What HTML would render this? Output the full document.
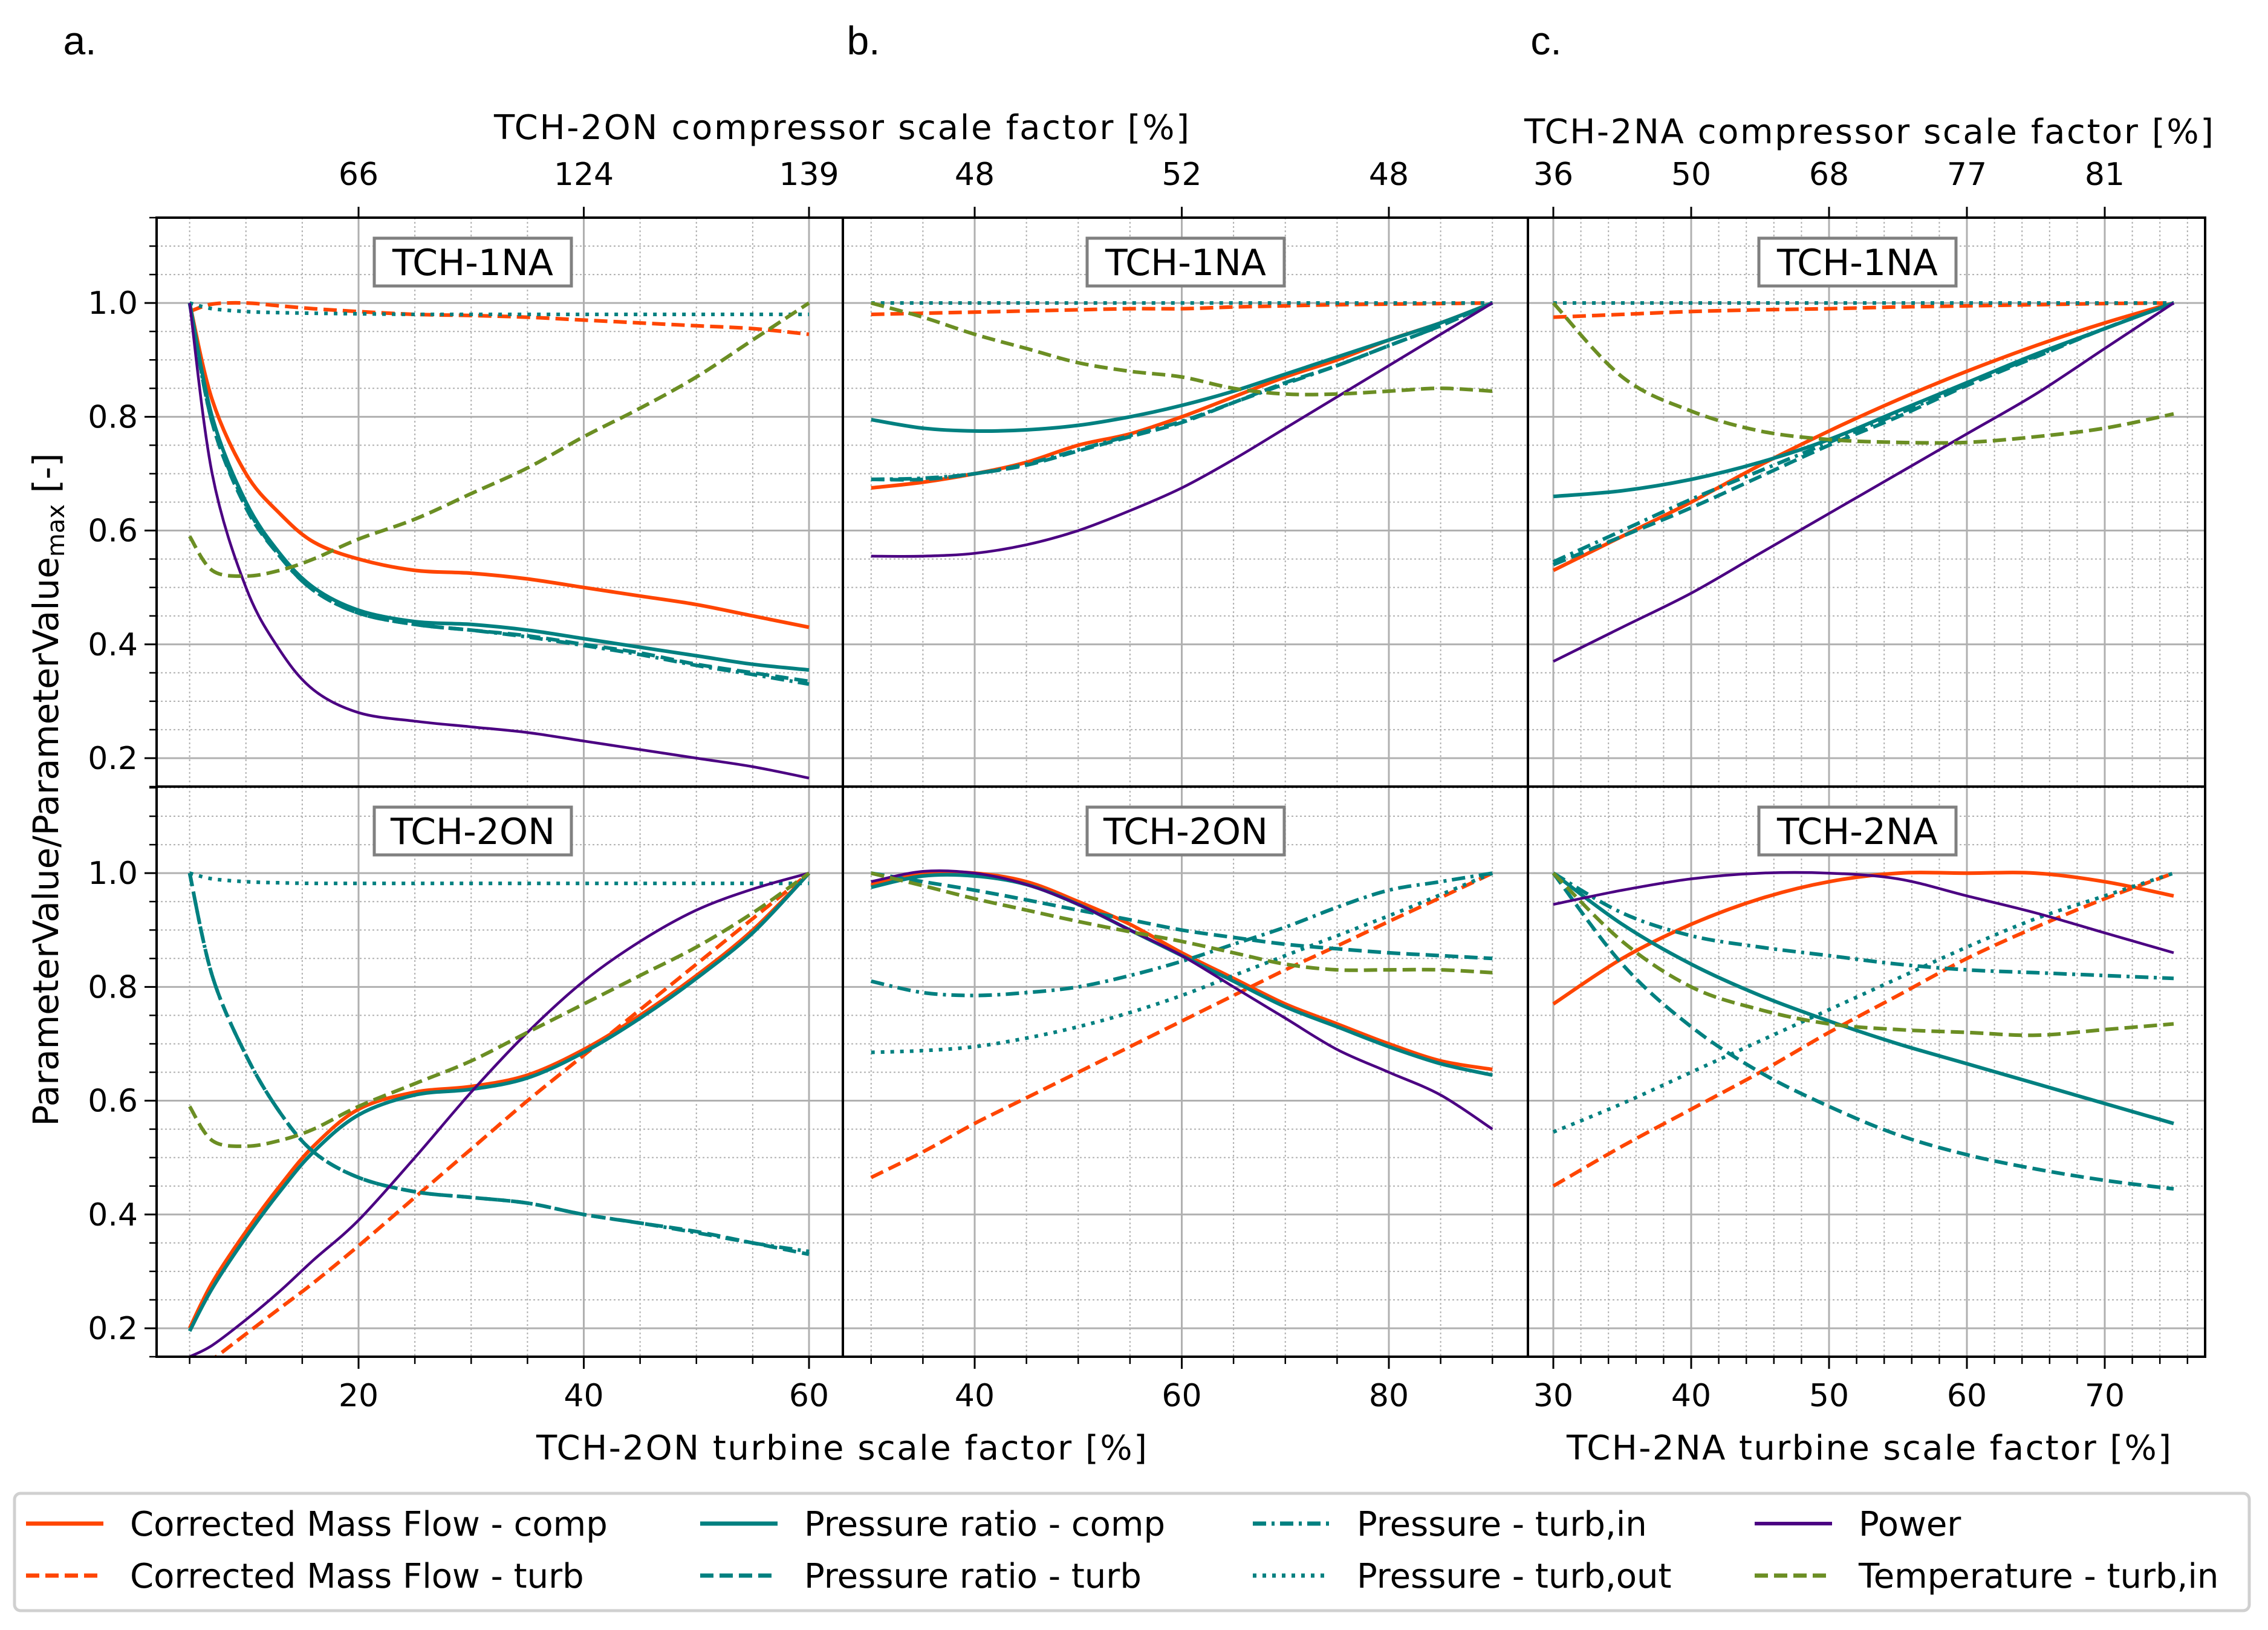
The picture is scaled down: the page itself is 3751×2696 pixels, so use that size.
<!DOCTYPE html>
<html><head><meta charset="utf-8"><style>
html,body{margin:0;padding:0;background:#fff}
svg{display:block}
text{font-family:"DejaVu Sans","Liberation Sans",sans-serif;fill:#000}
</style></head><body>
<svg id="chart" width="3751" height="2696" viewBox="0 0 3751 2696" xmlns="http://www.w3.org/2000/svg">
<rect width="3751" height="2696" fill="#fff"/>
<g id="grid"></g><g id="series"></g><g id="axes"></g><g id="labels"></g>
</svg>
<script>
// ---- data ----
const xA = [5,7,10,13,16,20,25,30,35,40,45,50,55,60];
const a1_cmfComp = [1.0,0.83,0.70,0.63,0.58,0.55,0.53,0.525,0.515,0.50,0.485,0.47,0.45,0.43];
const a1_cmfTurb = [0.985,0.998,1.0,0.995,0.99,0.985,0.98,0.978,0.975,0.97,0.965,0.96,0.955,0.945];
const a1_prComp = [1.0,0.80,0.65,0.56,0.50,0.46,0.44,0.435,0.425,0.41,0.395,0.38,0.365,0.355];
const a1_prTurb = [1.0,0.79,0.64,0.555,0.495,0.455,0.435,0.425,0.415,0.40,0.385,0.365,0.35,0.335];
const a1_pIn = [1.0,0.79,0.645,0.555,0.495,0.455,0.435,0.425,0.413,0.398,0.382,0.363,0.347,0.33];
const a1_pOut = [1.0,0.99,0.985,0.983,0.982,0.981,0.98,0.98,0.98,0.98,0.98,0.98,0.98,0.98];
const a1_power = [1.0,0.70,0.50,0.39,0.32,0.28,0.265,0.255,0.245,0.23,0.215,0.20,0.185,0.165];
const a1_temp = [0.59,0.53,0.52,0.53,0.55,0.585,0.62,0.665,0.71,0.765,0.815,0.87,0.935,1.0];

const a2_cmfComp = [0.20,0.28,0.37,0.45,0.52,0.585,0.615,0.625,0.645,0.69,0.75,0.82,0.90,1.0];
const a2_cmfTurb = [0.12,0.145,0.19,0.235,0.28,0.345,0.43,0.515,0.60,0.68,0.76,0.84,0.92,1.0];
const a2_prComp = [0.195,0.27,0.36,0.44,0.51,0.575,0.61,0.62,0.64,0.685,0.745,0.815,0.895,1.0];
const a2_prTurb = [1.0,0.82,0.68,0.58,0.51,0.465,0.44,0.43,0.42,0.40,0.385,0.37,0.35,0.33];
const a2_pIn = [1.0,0.82,0.68,0.58,0.51,0.465,0.44,0.43,0.42,0.40,0.385,0.368,0.35,0.335];
const a2_pOut = [1.0,0.99,0.985,0.983,0.982,0.982,0.982,0.982,0.982,0.982,0.982,0.982,0.982,0.982];
const a2_power = [0.15,0.17,0.215,0.265,0.32,0.39,0.50,0.615,0.72,0.81,0.88,0.935,0.972,1.0];
const a2_temp = [0.59,0.53,0.52,0.53,0.55,0.59,0.63,0.67,0.72,0.77,0.82,0.87,0.93,1.0];

const xB = [30,35,40,45,50,55,60,65,70,75,80,85,90];
const b1_cmfComp = [0.675,0.685,0.70,0.72,0.75,0.77,0.80,0.835,0.87,0.90,0.935,0.965,1.0];
const b1_cmfTurb = [0.98,0.982,0.984,0.986,0.988,0.99,0.99,0.993,0.995,0.997,0.998,0.999,1.0];
const b1_prComp = [0.795,0.78,0.775,0.777,0.785,0.80,0.82,0.845,0.875,0.905,0.935,0.965,1.0];
const b1_prTurb = [0.69,0.69,0.70,0.715,0.74,0.765,0.79,0.825,0.86,0.89,0.925,0.96,1.0];
const b1_pIn = [0.69,0.692,0.70,0.717,0.742,0.767,0.792,0.825,0.858,0.89,0.925,0.96,1.0];
const b1_pOut = [1.0,1.0,1.0,1.0,1.0,1.0,1.0,1.0,1.0,1.0,1.0,1.0,1.0];
const b1_power = [0.555,0.555,0.56,0.575,0.60,0.635,0.675,0.725,0.78,0.835,0.89,0.945,1.0];
const b1_temp = [1.0,0.975,0.945,0.92,0.895,0.88,0.87,0.85,0.84,0.84,0.845,0.85,0.845];

const b2_cmfComp = [0.98,1.0,1.0,0.985,0.95,0.91,0.86,0.815,0.77,0.735,0.70,0.67,0.655];
const b2_cmfTurb = [0.465,0.51,0.56,0.605,0.65,0.695,0.74,0.785,0.83,0.872,0.915,0.957,1.0];
const b2_prComp = [0.975,0.995,0.995,0.98,0.945,0.90,0.855,0.81,0.765,0.73,0.695,0.665,0.645];
const b2_prTurb = [1.0,0.985,0.97,0.953,0.935,0.918,0.90,0.887,0.875,0.867,0.86,0.855,0.85];
const b2_pIn = [0.81,0.79,0.785,0.79,0.80,0.82,0.845,0.875,0.905,0.94,0.97,0.985,1.0];
const b2_pOut = [0.685,0.688,0.695,0.71,0.73,0.755,0.785,0.82,0.855,0.89,0.925,0.962,1.0];
const b2_power = [0.985,1.003,1.0,0.98,0.945,0.90,0.855,0.80,0.745,0.69,0.65,0.61,0.55];
const b2_temp = [1.0,0.978,0.955,0.935,0.915,0.897,0.88,0.86,0.84,0.83,0.83,0.83,0.825];

const xC = [30,35,40,45,50,55,60,65,70,75];
const c1_cmfComp = [0.53,0.59,0.65,0.715,0.775,0.83,0.88,0.925,0.965,1.0];
const c1_cmfTurb = [0.975,0.98,0.985,0.988,0.99,0.993,0.995,0.997,0.999,1.0];
const c1_prComp = [0.66,0.67,0.69,0.72,0.76,0.81,0.86,0.91,0.955,1.0];
const c1_prTurb = [0.54,0.59,0.64,0.695,0.75,0.80,0.855,0.905,0.955,1.0];
const c1_pIn = [0.545,0.60,0.655,0.705,0.755,0.805,0.857,0.907,0.955,1.0];
const c1_pOut = [1.0,1.0,1.0,1.0,1.0,1.0,1.0,1.0,1.0,1.0];
const c1_power = [0.37,0.43,0.49,0.56,0.63,0.70,0.77,0.84,0.92,1.0];
const c1_temp = [1.0,0.87,0.81,0.775,0.76,0.755,0.755,0.765,0.78,0.805];

const c2_cmfComp = [0.77,0.85,0.91,0.955,0.985,1.0,1.0,1.0,0.985,0.96];
const c2_cmfTurb = [0.45,0.52,0.585,0.65,0.72,0.785,0.85,0.905,0.955,1.0];
const c2_prComp = [1.0,0.91,0.84,0.785,0.74,0.70,0.665,0.63,0.595,0.56];
const c2_prTurb = [1.0,0.84,0.73,0.65,0.59,0.54,0.505,0.48,0.46,0.445];
const c2_pIn = [1.0,0.93,0.89,0.87,0.855,0.84,0.83,0.825,0.82,0.815];
const c2_pOut = [0.545,0.595,0.65,0.705,0.76,0.815,0.87,0.92,0.96,1.0];
const c2_power = [0.945,0.97,0.99,1.0,1.0,0.99,0.96,0.93,0.895,0.86];
const c2_temp = [1.0,0.88,0.80,0.76,0.735,0.725,0.72,0.715,0.725,0.735];

const yTicks = [0.2,0.4,0.6,0.8,1.0];
const yTickLabels = ["0.2","0.4","0.6","0.8","1.0"];
const aTicks = [20,40,60]; const aTopLabels = ["66","124","139"];
const bTicks = [40,60,80]; const bTopLabels = ["48","52","48"];
const cTicks = [30,40,50,60,70]; const cTopLabels = ["36","50","68","77","81"];
const legendLabels = ["Corrected Mass Flow - comp","Corrected Mass Flow - turb","Pressure ratio - comp","Pressure ratio - turb","Pressure - turb,in","Pressure - turb,out","Power","Temperature - turb,in"];

// ---- layout ----
const NS="http://www.w3.org/2000/svg";
const rows=[{top:1301,bot:360},{top:2244,bot:1301}];
function yS(r,v){return rows[r].top-(v-0.15)*941;}
const panels=[
 {id:'a',l:259,r:1394,x0:20,px0:593,k:18.625,x:xA,ticks:aTicks,top:aTopLabels,minor:5,
  s:[[a1_cmfComp,a1_cmfTurb,a1_prComp,a1_prTurb,a1_pIn,a1_pOut,a1_power,a1_temp],[a2_cmfComp,a2_cmfTurb,a2_prComp,a2_prTurb,a2_pIn,a2_pOut,a2_power,a2_temp]],titles:["TCH-1NA","TCH-2ON"],tx:782},
 {id:'b',l:1394,r:2527,x0:40,px0:1612,k:17.125,x:xB,ticks:bTicks,top:bTopLabels,minor:5,
  s:[[b1_cmfComp,b1_cmfTurb,b1_prComp,b1_prTurb,b1_pIn,b1_pOut,b1_power,b1_temp],[b2_cmfComp,b2_cmfTurb,b2_prComp,b2_prTurb,b2_pIn,b2_pOut,b2_power,b2_temp]],titles:["TCH-1NA","TCH-2ON"],tx:1961},
 {id:'c',l:2527,r:3647,x0:30,px0:2569,k:22.8,x:xC,ticks:cTicks,top:cTopLabels,minor:2,
  s:[[c1_cmfComp,c1_cmfTurb,c1_prComp,c1_prTurb,c1_pIn,c1_pOut,c1_power,c1_temp],[c2_cmfComp,c2_cmfTurb,c2_prComp,c2_prTurb,c2_pIn,c2_pOut,c2_power,c2_temp]],titles:["TCH-1NA","TCH-2NA"],tx:3072}
];
const styles=[
 {c:'#FF4500',w:6,d:''},{c:'#FF4500',w:6,d:'22 10'},
 {c:'#008080',w:6,d:''},{c:'#008080',w:6,d:'22 10'},
 {c:'#008080',w:6,d:'22 9 5 9'},{c:'#008080',w:6,d:'6 10'},
 {c:'#4B0082',w:4.5,d:''},{c:'#6B8E23',w:6,d:'22 10'}];
const seriesNames=['cmf-comp','cmf-turb','pr-comp','pr-turb','p-turb-in','p-turb-out','power','temp-turb-in'];
function mk(tag,attrs,parent,txt){const e=document.createElementNS(NS,tag);for(const k in attrs)e.setAttribute(k,attrs[k]);if(txt!==undefined)e.textContent=txt;parent.appendChild(e);return e;}
const G=document.getElementById('grid'),S=document.getElementById('series'),A=document.getElementById('axes'),L=document.getElementById('labels');
function xS(p,v){return p.px0+(v-p.x0)*p.k;}
function smooth(pts){let d=`M${pts[0][0]},${pts[0][1]}`;for(let i=0;i<pts.length-1;i++){const p0=pts[Math.max(0,i-1)],p1=pts[i],p2=pts[i+1],p3=pts[Math.min(pts.length-1,i+2)];const c1=[p1[0]+(p2[0]-p0[0])/6,p1[1]+(p2[1]-p0[1])/6],c2=[p2[0]-(p3[0]-p1[0])/6,p2[1]-(p3[1]-p1[1])/6];d+=` C${c1[0].toFixed(1)},${c1[1].toFixed(1)} ${c2[0].toFixed(1)},${c2[1].toFixed(1)} ${p2[0].toFixed(1)},${p2[1].toFixed(1)}`;}return d;}
const defs=mk('defs',{},document.getElementById('chart'));
panels.forEach((p,pi)=>{
 for(let r=0;r<2;r++){
  const cp=mk('clipPath',{id:`clip${pi}${r}`},defs);mk('rect',{x:p.l,y:rows[r].bot,width:p.r-p.l,height:rows[r].top-rows[r].bot},cp);
  for(let v=0.15;v<=1.151;v+=0.05){const y=yS(r,v);const maj=yTicks.some(t=>Math.abs(t-v)<1e-6);
   if(!maj){const ln=mk('line',{x1:p.l,x2:p.r,y1:y,y2:y,stroke:'#b0b0b0','stroke-width':2,'stroke-dasharray':'3 4'},G);}}
  const vmin=Math.ceil((p.l-p.px0)/p.k/p.minor)*p.minor+p.x0;
  for(let v=vmin;xS(p,v)<p.r;v+=p.minor){if(p.ticks.includes(v))continue;const x=xS(p,v);const ln=mk('line',{x1:x,x2:x,y1:rows[r].bot,y2:rows[r].top,stroke:'#b0b0b0','stroke-width':2,'stroke-dasharray':'3 4'},G);}
  yTicks.forEach(v=>{const y=yS(r,v);const ln=mk('line',{x1:p.l,x2:p.r,y1:y,y2:y,stroke:'#b0b0b0','stroke-width':3},G);});
  p.ticks.forEach(v=>{const x=xS(p,v);const ln=mk('line',{x1:x,x2:x,y1:rows[r].bot,y2:rows[r].top,stroke:'#b0b0b0','stroke-width':3},G);});
  const sg=mk('g',{'clip-path':`url(#clip${pi}${r})`},S);
  p.s[r].forEach((vals,si)=>{const st=styles[si];const pts=p.x.map((xv,i)=>[xS(p,xv),yS(r,vals[i])]);
   const path=mk('path',{d:smooth(pts),fill:'none',stroke:st.c,'stroke-width':st.w,'stroke-dasharray':st.d},sg);
   
   });
  const tg=mk('g',{},L);
  const ty=rows[r].bot+74;
  mk('rect',{x:p.tx-163,y:ty-40,width:326,height:79,fill:'#fff',stroke:'#808080','stroke-width':5},tg);
  mk('text',{x:p.tx,y:ty+21,'font-size':60,'text-anchor':'middle'},tg,p.titles[r]);
 }
 const sp=mk('rect',{x:p.l,y:360,width:p.r-p.l,height:2244-360,fill:'none',stroke:'#000','stroke-width':4},A);
 mk('line',{x1:p.l,x2:p.r,y1:1301,y2:1301,stroke:'#000','stroke-width':4},A);
 p.ticks.forEach((v,i)=>{const x=xS(p,v);
  mk('line',{x1:x,x2:x,y1:2244,y2:2264,stroke:'#000','stroke-width':3},A);
  mk('line',{x1:x,x2:x,y1:360,y2:342,stroke:'#000','stroke-width':3},A);
  const t=mk('text',{x:x,y:2326,'font-size':52,'text-anchor':'middle'},L,String(v));
  const t2=mk('text',{x:x,y:306,'font-size':52,'text-anchor':'middle'},L,p.top[i]);});
 const vmin=Math.ceil((p.l-p.px0)/p.k/p.minor)*p.minor+p.x0;
 for(let v=vmin;xS(p,v)<p.r;v+=p.minor){if(p.ticks.includes(v))continue;const x=xS(p,v);mk('line',{x1:x,x2:x,y1:2244,y2:2256,stroke:'#000','stroke-width':2.5},A);}
});
for(let r=0;r<2;r++){for(let v=0.15;v<=1.151;v+=0.05){const y=yS(r,v);const maj=yTicks.findIndex(t=>Math.abs(t-v)<1e-6);
 mk('line',{x1:259,x2:maj>=0?239:247,y1:y,y2:y,stroke:'#000','stroke-width':maj>=0?3:2.5},A);
 if(maj>=0){const t=mk('text',{x:228,y:y+18,'font-size':52,'text-anchor':'end'},L,yTickLabels[maj]);}}}
</script>
<script>
const L2=document.getElementById('labels');
function tx(x,y,s,txt,name,extra){const e=document.createElementNS("http://www.w3.org/2000/svg",'text');e.setAttribute('x',x);e.setAttribute('y',y);e.setAttribute('font-size',s);if(extra)for(const k in extra)e.setAttribute(k,extra[k]);e.textContent=txt;
 
 
 L2.appendChild(e);return e;}
tx(132,90,66,'a.','panel-label-a',{'text-anchor':'middle','style':'font-family:"Liberation Sans",sans-serif'});
tx(1428,90,66,'b.','panel-label-b',{'text-anchor':'middle','style':'font-family:"Liberation Sans",sans-serif'});
tx(2557,90,66,'c.','panel-label-c',{'text-anchor':'middle','style':'font-family:"Liberation Sans",sans-serif'});
tx(1392,230,56,'TCH-2ON compressor scale factor [%]','top-axis-title-ab',{'text-anchor':'middle',textLength:1150});
tx(3091,237,56,'TCH-2NA compressor scale factor [%]','top-axis-title-c',{'text-anchor':'middle',textLength:1140});
tx(1392,2414,56,'TCH-2ON turbine scale factor [%]','x-axis-title-ab',{'text-anchor':'middle',textLength:1010});
tx(3091,2414,56,'TCH-2NA turbine scale factor [%]','x-axis-title-c',{'text-anchor':'middle',textLength:1000});
const yl=tx(0,0,58,'','y-axis-title',{'text-anchor':'middle',transform:'translate(96,1306) rotate(-90)'});
yl.innerHTML='ParameterValue/ParameterValue<tspan font-size="40" dy="10">max</tspan><tspan dy="-10"> [-]</tspan>';
const svg=document.getElementById('chart');
const lg=document.createElementNS("http://www.w3.org/2000/svg",'g');


svg.appendChild(lg);
lg.innerHTML='<rect x="24" y="2470" width="3696" height="194" rx="10" fill="#fff" stroke="#d0d0d0" stroke-width="5"/>';
const legX=[43,1158,2072,2902], legY=[2520,2606];
const lStyles=[['#FF4500',''],['#FF4500','22 10'],['#008080',''],['#008080','22 10'],['#008080','22 9 5 9'],['#008080','6 10'],['#4B0082',''],['#6B8E23','22 10']];
legendLabels.forEach((lab,i)=>{const col=Math.floor(i/2),row=i%2;const x=legX[col],y=legY[row];
 const e=document.createElementNS("http://www.w3.org/2000/svg",'g');
 
 
 e.innerHTML=`<line x1="${x}" x2="${x+128}" y1="${y}" y2="${y}" stroke="${lStyles[i][0]}" stroke-width="${i==6?6:7}" stroke-dasharray="${lStyles[i][1]}"/><text x="${x+172}" y="${y+20}" font-size="56">${lab}</text>`;
 lg.appendChild(e);});
</script>
</body></html>
